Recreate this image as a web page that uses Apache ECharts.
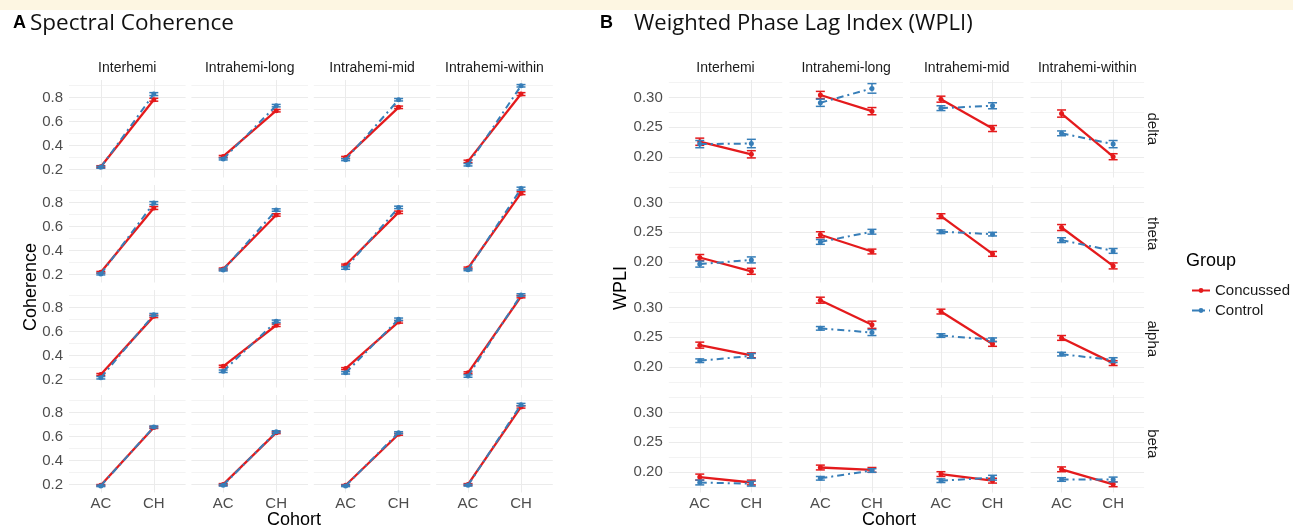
<!DOCTYPE html>
<html>
<head>
<meta charset="utf-8">
<script src="https://cdn.jsdelivr.net/npm/echarts@6/dist/echarts.min.js"></script>
<style>
html, body { margin: 0; padding: 0; background: #fff; }
#chart { width: 1293px; height: 528px; }
</style>
</head>
<body>
<div id="chart"></div>
<script>
// facets
const cohorts = ['AC', 'CH'];
const regions = ['Interhemi', 'Intrahemi-long', 'Intrahemi-mid', 'Intrahemi-within'];
const bands = ['delta', 'theta', 'alpha', 'beta'];
const groups = ['Concussed', 'Control'];

// Spectral coherence, [band][region] = [AC, CH]
const cohConcussed = [
    [[0.225, 0.781], [0.310, 0.690], [0.302, 0.718], [0.269, 0.828]],
    [[0.220, 0.754], [0.247, 0.696], [0.280, 0.718], [0.255, 0.877]],
    [[0.243, 0.726], [0.311, 0.652], [0.292, 0.680], [0.257, 0.890]],
    [[0.195, 0.675], [0.202, 0.632], [0.195, 0.619], [0.202, 0.846]]
];
const cohControl = [
    [[0.220, 0.828], [0.289, 0.732], [0.283, 0.781], [0.241, 0.897]],
    [[0.206, 0.795], [0.239, 0.737], [0.255, 0.759], [0.241, 0.915]],
    [[0.216, 0.740], [0.270, 0.685], [0.257, 0.702], [0.230, 0.904]],
    [[0.190, 0.680], [0.195, 0.640], [0.190, 0.632], [0.195, 0.865]]
];
const cohConcussedSE = [
    [[0.008, 0.012], [0.008, 0.010], [0.008, 0.010], [0.010, 0.012]],
    [[0.007, 0.012], [0.008, 0.010], [0.008, 0.010], [0.008, 0.012]],
    [[0.008, 0.010], [0.009, 0.010], [0.008, 0.010], [0.008, 0.010]],
    [[0.006, 0.008], [0.007, 0.008], [0.006, 0.008], [0.007, 0.010]]
];
const cohControlSE = [
    [[0.008, 0.012], [0.008, 0.010], [0.008, 0.010], [0.010, 0.010]],
    [[0.008, 0.012], [0.008, 0.010], [0.010, 0.010], [0.008, 0.012]],
    [[0.010, 0.010], [0.010, 0.010], [0.010, 0.010], [0.010, 0.010]],
    [[0.006, 0.008], [0.007, 0.008], [0.006, 0.008], [0.007, 0.010]]
];

// WPLI, [band][region] = [AC, CH]
const wpliConcussed = [
    [[0.226, 0.205], [0.304, 0.277], [0.297, 0.248], [0.273, 0.201]],
    [[0.208, 0.185], [0.246, 0.218], [0.277, 0.214], [0.258, 0.194]],
    [[0.237, 0.220], [0.312, 0.271], [0.293, 0.239], [0.249, 0.207]],
    [[0.192, 0.183], [0.208, 0.204], [0.197, 0.186], [0.205, 0.180]]
];
const wpliControl = [
    [[0.222, 0.223], [0.291, 0.315], [0.282, 0.286], [0.240, 0.222]],
    [[0.197, 0.204], [0.234, 0.251], [0.251, 0.247], [0.237, 0.219]],
    [[0.211, 0.219], [0.265, 0.258], [0.253, 0.246], [0.222, 0.212]],
    [[0.183, 0.181], [0.190, 0.203], [0.186, 0.191], [0.188, 0.188]]
];
const wpliConcussedSE = [
    [[0.006, 0.006], [0.006, 0.006], [0.005, 0.005], [0.006, 0.005]],
    [[0.005, 0.005], [0.005, 0.004], [0.004, 0.004], [0.005, 0.005]],
    [[0.005, 0.004], [0.005, 0.006], [0.004, 0.004], [0.004, 0.004]],
    [[0.005, 0.004], [0.004, 0.004], [0.004, 0.004], [0.004, 0.004]]
];
const wpliControlSE = [
    [[0.006, 0.007], [0.006, 0.008], [0.004, 0.005], [0.004, 0.006]],
    [[0.005, 0.005], [0.004, 0.004], [0.003, 0.003], [0.004, 0.004]],
    [[0.003, 0.004], [0.003, 0.005], [0.003, 0.003], [0.003, 0.004]],
    [[0.004, 0.004], [0.003, 0.003], [0.003, 0.004], [0.003, 0.004]]
];

const cohTicks = [0.2, 0.4, 0.6, 0.8];
const cohGrid = [0.2, 0.3, 0.4, 0.5, 0.6, 0.7, 0.8, 0.9];
const wpliTicks = [0.20, 0.25, 0.30];
const wpliGrid = [0.175, 0.2, 0.225, 0.25, 0.275, 0.3, 0.325];

const RED = '#e41a1c';
const BLUE = '#377eb8';
const FONT = '"Liberation Sans", Arial, sans-serif';
const TITLE_FONT = '"Open Sans", sans-serif';

let chart = echarts.init(document.getElementById('chart'));

let grids = [], xAxes = [], yAxes = [], series = [], texts = [];

function errorBar(color, dash) {
    return function (params, api) {
        let x = api.value(0);
        let top = api.coord([x, api.value(2)]);
        let bot = api.coord([x, api.value(1)]);
        let h = 4.5;
        let style = { stroke: color, lineWidth: 1.5 };
        return {
            type: 'group',
            children: [
                { type: 'line', shape: { x1: top[0], y1: top[1], x2: bot[0], y2: bot[1] }, style: { stroke: color, lineWidth: 1.5, lineDash: dash } },
                { type: 'line', shape: { x1: top[0] - h, y1: top[1], x2: top[0] + h, y2: top[1] }, style: style },
                { type: 'line', shape: { x1: bot[0] - h, y1: bot[1], x2: bot[0] + h, y2: bot[1] }, style: style }
            ]
        };
    };
}

function text(x, y, str, size, opts) {
    opts = opts || {};
    texts.push({
        type: 'text', x: x, y: y, rotation: opts.rotation || 0, z: 10,
        style: {
            text: str, fill: opts.color || '#1a1a1a',
            fontSize: size, fontFamily: opts.font || FONT, fontWeight: opts.weight || 'normal',
            align: opts.align || 'center', verticalAlign: 'middle'
        }
    });
}

function addPanel(p) {
    for (let r = 0; r < bands.length; r++) {
        for (let c = 0; c < regions.length; c++) {
            let idx = grids.length;
            grids.push({ left: p.left + c * p.step, top: 80 + r * 105, width: p.width, height: 97.5 });
            xAxes.push({
                gridIndex: idx, type: 'value', min: 0.4, max: 2.6,
                axisLine: { show: false },
                axisTick: { show: false, customValues: [1, 2] },
                axisLabel: {
                    show: r === bands.length - 1, customValues: [1, 2],
                    formatter: v => cohorts[Math.round(v) - 1],
                    color: '#4d4d4d', fontSize: 15, fontFamily: FONT, margin: 4
                },
                splitLine: { show: true, lineStyle: { color: '#ebebeb', width: 1 } }
            });
            yAxes.push({
                gridIndex: idx, type: 'value', min: p.yMin, max: p.yMax,
                axisLine: { show: false },
                axisTick: { show: false, customValues: p.gridVals },
                axisLabel: {
                    show: c === 0, customValues: p.tickVals,
                    formatter: v => v.toFixed(p.dec),
                    color: '#4d4d4d', fontSize: 15, fontFamily: FONT, margin: 6
                },
                splitLine: { show: true, lineStyle: { color: p.gridColors, width: 1 } }
            });
            groups.forEach((g, gi) => {
                let vals = gi === 0 ? p.conc[r][c] : p.ctrl[r][c];
                let se = gi === 0 ? p.concSE[r][c] : p.ctrlSE[r][c];
                let color = gi === 0 ? RED : BLUE;
                series.push({
                    name: g, type: 'line', xAxisIndex: idx, yAxisIndex: idx,
                    data: vals.map((v, i) => [i + 1, v]),
                    symbol: 'circle', symbolSize: 5,
                    lineStyle: { color: color, width: gi === 0 ? 2.3 : 2, type: gi === 0 ? 'solid' : [7, 4, 2, 4] },
                    itemStyle: { color: color },
                    silent: true, animation: false, z: 2 + gi * 2
                });
                series.push({
                    name: g, type: 'custom', xAxisIndex: idx, yAxisIndex: idx,
                    renderItem: errorBar(color, gi === 0 ? null : [3, 2]),
                    data: vals.map((v, i) => [i + 1, v - se[i], v + se[i]]),
                    encode: { x: 0, y: [1, 2] },
                    silent: true, animation: false, z: 3 + gi * 2
                });
            });
        }
    }
    regions.forEach((name, c) => text(p.left + c * p.step + p.width / 2, 68, name, 14));
}

// A: spectral coherence
addPanel({
    left: 69, step: 122.4, width: 116.6, yMin: 0.135, yMax: 0.945,
    tickVals: cohTicks, gridVals: cohGrid, gridColors: ['#ebebeb', '#f3f3f3'], dec: 1,
    conc: cohConcussed, ctrl: cohControl, concSE: cohConcussedSE, ctrlSE: cohControlSE
});
// B: WPLI
addPanel({
    left: 668.8, step: 120.6, width: 113.5, yMin: 0.1663, yMax: 0.329,
    tickVals: wpliTicks, gridVals: wpliGrid, gridColors: ['#f3f3f3', '#ebebeb'], dec: 2,
    conc: wpliConcussed, ctrl: wpliControl, concSE: wpliConcussedSE, ctrlSE: wpliControlSE
});

bands.forEach((b, r) => text(1152, 80 + r * 105 + 48.75, b, 15, { rotation: -Math.PI / 2 }));

// panel titles
text(13, 23, 'A', 18, { weight: 'bold', align: 'left', color: '#000' });
text(30, 24, 'Spectral Coherence', 22.5, { font: TITLE_FONT, align: 'left', color: '#111' });
text(600, 23, 'B', 18, { weight: 'bold', align: 'left', color: '#000' });
text(634, 24, 'Weighted Phase Lag Index (WPLI)', 22, { font: TITLE_FONT, align: 'left', color: '#111' });

// axis titles
text(31, 287, 'Coherence', 18, { rotation: Math.PI / 2, color: '#000' });
text(621, 288, 'WPLI', 18, { rotation: Math.PI / 2, color: '#000' });
text(294, 520, 'Cohort', 18, { color: '#000' });
text(889, 520, 'Cohort', 18, { color: '#000' });

// legend title
text(1186, 261, 'Group', 18, { align: 'left', color: '#000' });

let option = {
    backgroundColor: '#fff',
    animation: false,
    grid: grids,
    xAxis: xAxes,
    yAxis: yAxes,
    legend: {
        data: groups, orient: 'vertical', left: 1186, top: 278, itemGap: 5,
        itemWidth: 18, itemHeight: 6, selectedMode: false,
        textStyle: { fontSize: 15, fontFamily: FONT, color: '#1a1a1a' }
    },
    graphic: [
        { type: 'rect', shape: { x: 0, y: 0, width: 1293, height: 10 }, style: { fill: '#fdf6e2' }, z: 0 }
    ].concat(texts),
    series: series
};

chart.setOption(option);
</script>
</body>
</html>
